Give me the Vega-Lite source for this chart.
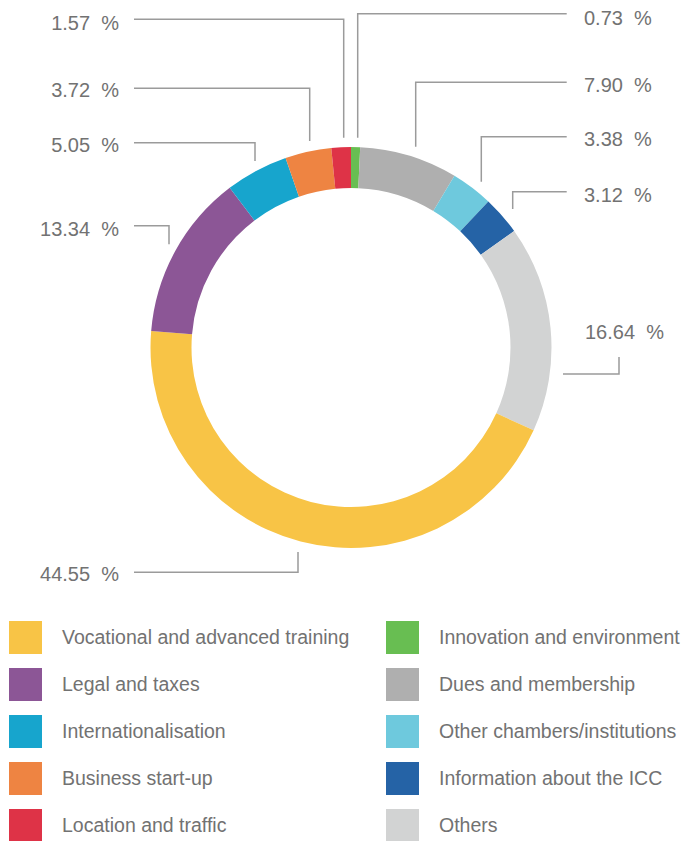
{
  "$schema": "https://vega.github.io/schema/vega-lite/v6.json",
  "width": 692,
  "height": 841,
  "padding": 0,
  "autosize": {"type": "fit", "contains": "padding"},
  "background": "white",
  "config": {
    "view": {"stroke": null},
    "font": "Liberation Sans",
    "legend": {"padding": 0}
  },
  "datasets": {
    "shares": [
      {"category": "Innovation and environment", "value": 0.73, "order": 1},
      {"category": "Dues and membership", "value": 7.90, "order": 2},
      {"category": "Other chambers/institutions", "value": 3.38, "order": 3},
      {"category": "Information about the ICC", "value": 3.12, "order": 4},
      {"category": "Others", "value": 16.64, "order": 5},
      {"category": "Vocational and advanced training", "value": 44.55, "order": 6},
      {"category": "Legal and taxes", "value": 13.34, "order": 7},
      {"category": "Internationalisation", "value": 5.05, "order": 8},
      {"category": "Business start-up", "value": 3.72, "order": 9},
      {"category": "Location and traffic", "value": 1.57, "order": 10}
    ],
    "labels": [
      {"category": "Location and traffic", "side": "left", "x": 119, "y": 23.5},
      {"category": "Business start-up", "side": "left", "x": 119, "y": 91},
      {"category": "Internationalisation", "side": "left", "x": 119, "y": 146},
      {"category": "Legal and taxes", "side": "left", "x": 119, "y": 229.5},
      {"category": "Vocational and advanced training", "side": "left", "x": 119, "y": 575},
      {"category": "Innovation and environment", "side": "right", "x": 584, "y": 19},
      {"category": "Dues and membership", "side": "right", "x": 584, "y": 86},
      {"category": "Other chambers/institutions", "side": "right", "x": 584, "y": 140},
      {"category": "Information about the ICC", "side": "right", "x": 584, "y": 196},
      {"category": "Others", "side": "right", "x": 585, "y": 333}
    ],
    "leaders": [
      {"category": "Location and traffic", "seq": 1, "x": 134, "y": 19.3},
      {"category": "Location and traffic", "seq": 2, "x": 343.7, "y": 19.3},
      {"category": "Location and traffic", "seq": 3, "x": 343.7, "y": 137.7},
      {"category": "Business start-up", "seq": 1, "x": 134, "y": 88.3},
      {"category": "Business start-up", "seq": 2, "x": 309.7, "y": 88.3},
      {"category": "Business start-up", "seq": 3, "x": 309.7, "y": 141},
      {"category": "Internationalisation", "seq": 1, "x": 134, "y": 142.7},
      {"category": "Internationalisation", "seq": 2, "x": 255, "y": 142.7},
      {"category": "Internationalisation", "seq": 3, "x": 255, "y": 161},
      {"category": "Legal and taxes", "seq": 1, "x": 134, "y": 225.7},
      {"category": "Legal and taxes", "seq": 2, "x": 169, "y": 225.7},
      {"category": "Legal and taxes", "seq": 3, "x": 169, "y": 244.3},
      {"category": "Vocational and advanced training", "seq": 1, "x": 134, "y": 572.3},
      {"category": "Vocational and advanced training", "seq": 2, "x": 298, "y": 572.3},
      {"category": "Vocational and advanced training", "seq": 3, "x": 298, "y": 552},
      {"category": "Innovation and environment", "seq": 1, "x": 566.7, "y": 13.7},
      {"category": "Innovation and environment", "seq": 2, "x": 357.7, "y": 13.7},
      {"category": "Innovation and environment", "seq": 3, "x": 357.7, "y": 137.7},
      {"category": "Dues and membership", "seq": 1, "x": 566.7, "y": 82.3},
      {"category": "Dues and membership", "seq": 2, "x": 415.7, "y": 82.3},
      {"category": "Dues and membership", "seq": 3, "x": 415.7, "y": 146.7},
      {"category": "Other chambers/institutions", "seq": 1, "x": 566.7, "y": 136.7},
      {"category": "Other chambers/institutions", "seq": 2, "x": 481.3, "y": 136.7},
      {"category": "Other chambers/institutions", "seq": 3, "x": 481.3, "y": 181.7},
      {"category": "Information about the ICC", "seq": 1, "x": 566.7, "y": 191.7},
      {"category": "Information about the ICC", "seq": 2, "x": 512.7, "y": 191.7},
      {"category": "Information about the ICC", "seq": 3, "x": 512.7, "y": 209},
      {"category": "Others", "seq": 1, "x": 563, "y": 374},
      {"category": "Others", "seq": 2, "x": 619, "y": 374},
      {"category": "Others", "seq": 3, "x": 619, "y": 357}
    ]
  },
  "layer": [
    {
      "data": {"name": "shares"},
      "mark": {"type": "arc", "outerRadius": 200.5, "innerRadius": 159.5, "stroke": null},
      "encoding": {
        "theta": {"field": "value", "type": "quantitative", "stack": true},
        "order": {"field": "order", "type": "quantitative", "sort": "ascending"},
        "x": {"datum": 351, "type": "quantitative", "scale": {"domain": [0, 692], "nice": false, "zero": false}, "axis": null},
        "y": {"datum": 347.5, "type": "quantitative", "scale": {"domain": [0, 841], "nice": false, "zero": false, "reverse": true}, "axis": null},
        "color": {
          "field": "category",
          "type": "nominal",
          "scale": {
            "domain": [
              "Vocational and advanced training", "Legal and taxes",
              "Internationalisation", "Business start-up",
              "Location and traffic", "Innovation and environment",
              "Dues and membership", "Other chambers/institutions",
              "Information about the ICC", "Others"
            ],
            "range": [
              "#f8c446", "#8c5696",
              "#17a5cd", "#ee8442",
              "#de3347", "#68be52",
              "#afafaf", "#6ec9dd",
              "#2563a6", "#d2d3d3"
            ]
          },
          "legend": {
            "orient": "none",
            "legendX": 9,
            "legendY": 621,
            "columns": 2,
            "title": null,
            "symbolType": "square",
            "symbolSize": 1089,
            "symbolStrokeWidth": 0,
            "symbolOpacity": 1,
            "labelFont": "Liberation Sans",
            "labelFontSize": 19.5,
            "labelColor": "#727272",
            "labelOffset": 20,
            "labelLimit": 400,
            "rowPadding": 14,
            "columnPadding": 36
          }
        }
      }
    },
    {
      "data": {"name": "leaders"},
      "mark": {"type": "line", "stroke": "#9b9b9b", "strokeWidth": 1.5, "interpolate": "linear"},
      "encoding": {
        "x": {"field": "x", "type": "quantitative"},
        "y": {"field": "y", "type": "quantitative"},
        "detail": {"field": "category", "type": "nominal"},
        "order": {"field": "seq", "type": "quantitative"}
      }
    },
    {
      "data": {"name": "labels"},
      "transform": [
        {"lookup": "category", "from": {"data": {"name": "shares"}, "key": "category", "fields": ["value"]}},
        {"calculate": "format(datum.value, '.2f') + '\u00a0\u00a0%'", "as": "txt"},
        {"filter": "datum.side == 'left'"}
      ],
      "mark": {"type": "text", "align": "right", "baseline": "middle", "fontSize": 20, "color": "#727272", "font": "Liberation Sans"},
      "encoding": {
        "x": {"field": "x", "type": "quantitative"},
        "y": {"field": "y", "type": "quantitative"},
        "text": {"field": "txt", "type": "nominal"}
      }
    },
    {
      "data": {"name": "labels"},
      "transform": [
        {"lookup": "category", "from": {"data": {"name": "shares"}, "key": "category", "fields": ["value"]}},
        {"calculate": "format(datum.value, '.2f') + '\u00a0\u00a0%'", "as": "txt"},
        {"filter": "datum.side == 'right'"}
      ],
      "mark": {"type": "text", "align": "left", "baseline": "middle", "fontSize": 20, "color": "#727272", "font": "Liberation Sans"},
      "encoding": {
        "x": {"field": "x", "type": "quantitative"},
        "y": {"field": "y", "type": "quantitative"},
        "text": {"field": "txt", "type": "nominal"}
      }
    }
  ]
}
